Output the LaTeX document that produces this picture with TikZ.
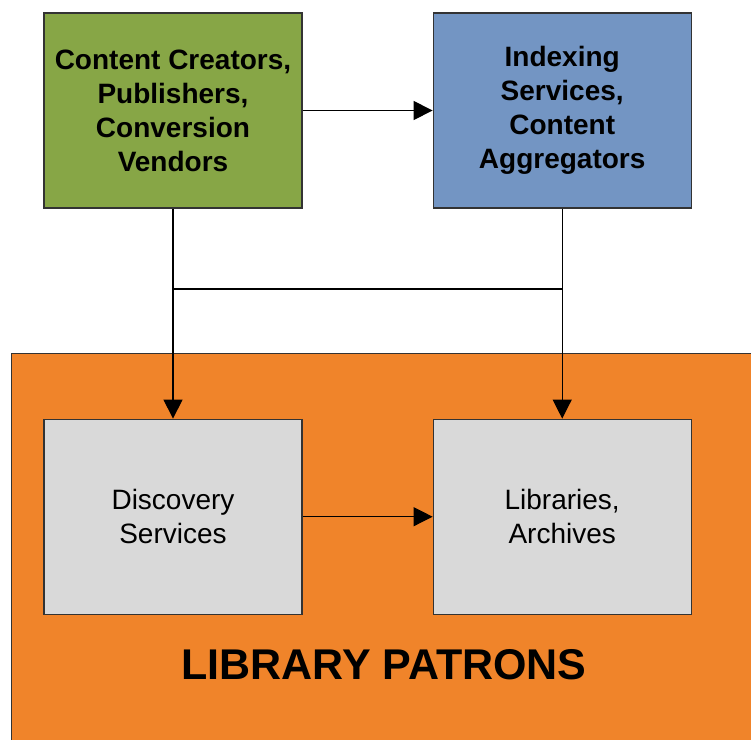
\documentclass[tikz,border=0pt]{standalone}
\usepackage{fontspec}
\setmainfont{Liberation Sans}
\usetikzlibrary{arrows.meta,positioning}

\definecolor{creatorgreen}{HTML}{87A646}
\definecolor{indexblue}{HTML}{7395C3}
\definecolor{patronorange}{HTML}{F0842A}
\definecolor{servicegray}{HTML}{D9D9D9}

\begin{document}
\begin{tikzpicture}[
  x=1pt, y=1pt,
  font=\fontsize{28}{34}\selectfont,
  box/.style={draw=black!80, line width=1.2pt, align=center, minimum width=258pt, minimum height=195pt, inner sep=0pt},
  topbox/.style={box, font=\fontsize{28}{34}\selectfont\bfseries},
  arr/.style={-{Triangle[length=19pt,width=19pt]}, line width=1.1pt},
  link/.style={line width=1.1pt}
]
\useasboundingbox (0,0) rectangle (751,-739);

% patrons area
\fill[patronorange] (11,-353) rectangle (780,-780);
\draw[black!80, line width=1pt] (11,-780) -- (11,-353) -- (780,-353);

\node[topbox, fill=creatorgreen] (creators) at (173,-110.5) {Content Creators,\\Publishers,\\Conversion\\Vendors};
\node[topbox, fill=indexblue, right=130pt of creators] (index) {Indexing\\Services,\\Content\\Aggregators};

\node[box, fill=servicegray, below=210pt of creators] (discovery) {Discovery\\Services};
\node[box, fill=servicegray, right=130pt of discovery] (libraries) {Libraries,\\Archives};

\node[font=\fontsize{43}{50}\selectfont\bfseries] (patrons) at (384,-665) {LIBRARY PATRONS};

\coordinate (jleft) at (creators.south |- 0,-289);
\coordinate (jright) at (index.south |- 0,-289);

\draw[arr] (creators) -- (index);
\draw[arr] (creators) -- (discovery);
\draw[arr] (index) -- (libraries);
\draw[link] (jleft) -- (jright);
\draw[arr] (discovery) -- (libraries);
\end{tikzpicture}
\end{document}
